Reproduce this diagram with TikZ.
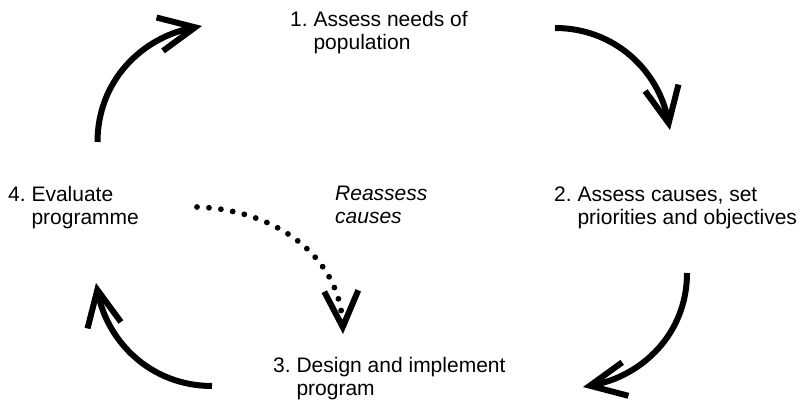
\documentclass[tikz,border=0pt]{standalone}
\usepackage{fontspec}
\setmainfont{Liberation Sans}
\usetikzlibrary{arrows.meta}
\frenchspacing
\begin{document}
\begin{tikzpicture}[x=1pt,y=1pt,
  lbl/.style={anchor=base west, inner sep=0pt, font=\fontsize{21}{22.5}\selectfont\frenchspacing},
  barb/.style={-{Straight Barb[length=36pt,width=34pt,line width=6pt]}},
  cyc/.style={line width=6pt, barb},
  reas/.style={line width=5.8pt, line cap=round, dash pattern=on 0pt off 12pt, barb}]
\useasboundingbox (0,0) rectangle (802,401);
\node[lbl] (s1) at (290,374) {\begin{tabular}[t]{@{}l@{}}1. Assess needs of\\\hphantom{1.\ }population\end{tabular}};
\node[lbl] (s2) at (554,199) {\begin{tabular}[t]{@{}l@{}}2. Assess causes, set\\\hphantom{2.\ }priorities and objectives\end{tabular}};
\node[lbl] (s3) at (273,28) {\begin{tabular}[t]{@{}l@{}}3. Design and implement\\\hphantom{3.\ }program\end{tabular}};
\node[lbl] (s4) at (8,199) {\begin{tabular}[t]{@{}l@{}}4. Evaluate\\\hphantom{4.\ }programme\end{tabular}};
\node[lbl] (re) at (335,200) {\begin{tabular}[t]{@{}l@{}}\itshape Reassess\\\itshape causes\end{tabular}};
\coordinate (a1s) at (97.5,259); \coordinate (a1e) at (202,375);
\coordinate (a2s) at (555,373); \coordinate (a2e) at (670,271);
\coordinate (a3s) at (687,128); \coordinate (a3e) at (583,14);
\coordinate (a4s) at (212,15);  \coordinate (a4e) at (96,118);
\coordinate (rs) at (197,194);  \coordinate (rt) at (343,67);
\draw[cyc] (a1s) to[out=90,in=191] (a1e);
\draw[cyc] (a2s) to[out=0,in=101] (a2e);
\draw[cyc] (a3s) to[out=-90,in=10.6] (a3e);
\draw[cyc] (a4s) to[out=180,in=-79] (a4e);
\draw[reas] (rs) .. controls (280,191) and (340,141) .. (rt);
\end{tikzpicture}
\end{document}
